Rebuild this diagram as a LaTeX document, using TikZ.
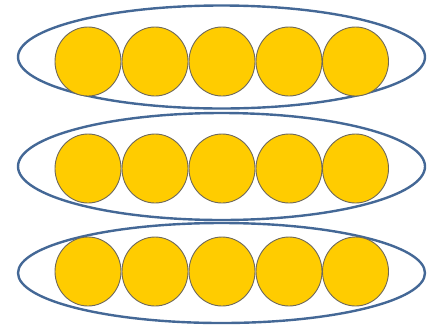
\documentclass[tikz,border=0pt]{standalone}
\usetikzlibrary{shapes.geometric}
\definecolor{ringblue}{RGB}{68,104,150}
\definecolor{ballyellow}{RGB}{255,204,0}
\definecolor{ballline}{RGB}{110,104,90}
\tikzset{
  ring/.style={ellipse, draw=ringblue, line width=2.4pt, minimum width=407pt, minimum height=#1, inner sep=0pt},
  ball/.style={ellipse, draw=ballline, fill=ballyellow, line width=0.9pt, minimum width=66pt, minimum height=69pt, inner sep=0pt}
}
\begin{document}
\begin{tikzpicture}[x=1pt,y=-1pt]
\useasboundingbox (0,0) rectangle (427,325);
\node[ring=103pt] (r1) at (221.5,57) {};
\node[ring=107pt] (r2) at (221.5,166.5) {};
\node[ring=100pt] (r3) at (221.5,273) {};
\foreach \r/\y in {1/61.5,2/168.5,3/271.5}{
  \foreach \i/\x in {1/88,2/155,3/222,4/289,5/355.5}{
    \node[ball] (b\r\i) at (\x,\y) {};
  }
}
\end{tikzpicture}
\end{document}
